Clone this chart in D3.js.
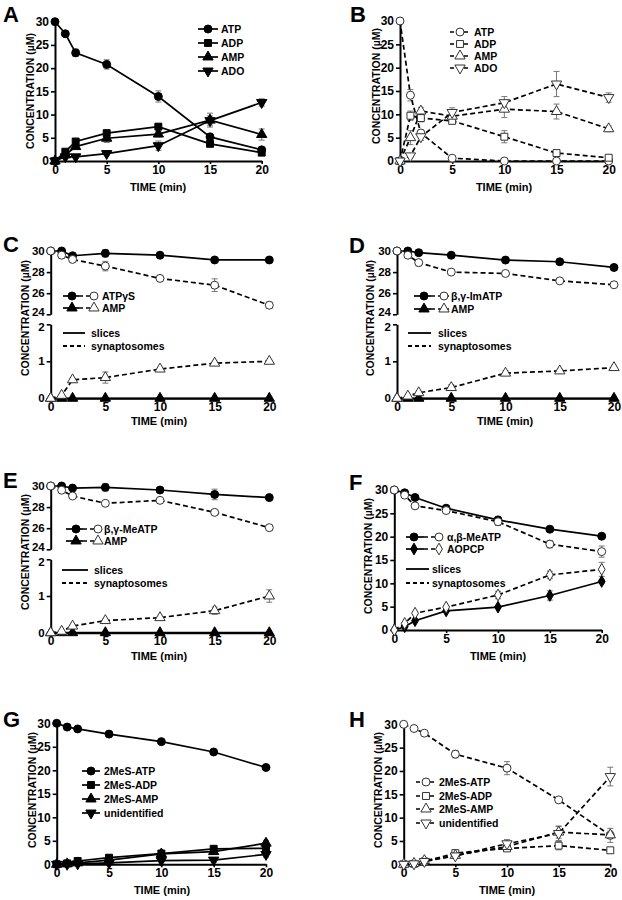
<!DOCTYPE html>
<html><head><meta charset="utf-8">
<script src="https://cdn.jsdelivr.net/npm/d3@7"></script>
<style>
body{margin:0;background:#fff}
text{font-family:"Liberation Sans",Arial,Helvetica,sans-serif;font-weight:bold;fill:#000}
</style>
</head><body>
<svg id="c" width="622" height="900"></svg>
<script>
// ---------- DATA ----------
const times = [0, 1, 2, 5, 10, 15, 20];
const xTicks = [0, 5, 10, 15, 20];
const yTicksFull = [0, 5, 10, 15, 20, 25, 30];
const yTicksUpper = [24, 26, 28, 30];
const yTicksLower = [0, 1, 2];
const lineLabels = ["slices", "synaptosomes"];

// Panel A (slices)
const aLabels = ["ATP", "ADP", "AMP", "ADO"];
const aATP = [30, 27.4, 23.3, 20.8, 13.9, 5.2, 2.4];
const aATPerr = [0, 0.5, 0.8, 1.0, 1.2, 0.5, 0.5];
const aADP = [0, 2.0, 4.2, 6.0, 7.4, 3.7, 1.8];
const aADPerr = [0, 0.3, 0.4, 0.5, 0.5, 0.3, 0.4];
const aAMP = [0, 1.3, 3.1, 4.9, 5.8, 8.8, 5.7];
const aAMPerr = [0, 0.3, 0.5, 0.9, 0.6, 1.5, 1.2];
const aADO = [0, 0.9, 0.9, 1.6, 3.3, 8.7, 12.6];
const aADOerr = [0, 0.2, 0.3, 0.4, 1.0, 1.0, 0.8];

// Panel B (synaptosomes)
const bLabels = ["ATP", "ADP", "AMP", "ADO"];
const bATP = [30, 14.1, 6.0, 0.6, 0, 0, 0];
const bATPerr = [0, 1.2, 0.6, 0.2, 0, 0, 0];
const bADP = [0, 9.7, 9.2, 8.6, 5.2, 1.7, 0.7];
const bADPerr = [0, 1.0, 0.8, 0.6, 1.3, 0.4, 0.3];
const bAMP = [0, 5.0, 10.7, 9.6, 11.1, 10.6, 6.9];
const bAMPerr = [0, 1.5, 0.8, 0.7, 1.8, 1.6, 0.6];
const bADO = [0, 1.1, 5.2, 10.4, 12.5, 16.5, 13.6];
const bADOerr = [0, 0.3, 0.8, 1.0, 1.3, 2.7, 1.0];

// Panel C
const cLabels = ["ATPγS", "AMP"];
const cATPsl = [30, 30, 29.55, 29.78, 29.6, 29.15, 29.15];
const cATPslErr = [0, 0.05, 0.1, 0.35, 0.1, 0.1, 0.1];
const cATPsy = [30, 29.6, 29.2, 28.57, 27.4, 26.76, 24.86];
const cATPsyErr = [0, 0.1, 0.15, 0.45, 0.25, 0.6, 0.3];
const cAMPsl = [0, 0, 0, 0, 0, 0, 0];
const cAMPsy = [0, 0.08, 0.5, 0.56, 0.79, 0.95, 1.0];
const cAMPsyErr = [0, 0.02, 0.04, 0.15, 0.04, 0.05, 0.03];

// Panel D
const dLabels = ["β,γ-ImATP", "AMP"];
const dATPsl = [30, 30, 29.84, 29.6, 29.14, 28.98, 28.44];
const dATPslErr = [0, 0.05, 0.1, 0.1, 0.1, 0.1, 0.1];
const dATPsy = [30, 29.6, 28.9, 28.0, 27.87, 27.17, 26.8];
const dATPsyErr = [0, 0.1, 0.3, 0.1, 0.1, 0.1, 0.1];
const dAMPsl = [0, 0, 0, 0, 0, 0, 0];
const dAMPsy = [0, 0.06, 0.15, 0.29, 0.68, 0.74, 0.83];
const dAMPsyErr = [0, 0.02, 0.04, 0.08, 0.06, 0.05, 0.06];

// Panel E
const eLabels = ["β,γ-MeATP", "AMP"];
const eATPsl = [30, 30, 29.8, 29.87, 29.62, 29.2, 28.9];
const eATPslErr = [0, 0.05, 0.1, 0.35, 0.1, 0.5, 0.1];
const eATPsy = [30, 29.6, 29.05, 28.36, 28.64, 27.5, 26.05];
const eATPsyErr = [0, 0.1, 0.1, 0.1, 0.1, 0.1, 0.1];
const eAMPsl = [0, 0, 0, 0, 0, 0, 0];
const eAMPsy = [0, 0.04, 0.18, 0.33, 0.41, 0.6, 1.0];
const eAMPsyErr = [0, 0.02, 0.03, 0.04, 0.04, 0.1, 0.17];

// Panel F
const fLabels = ["α,β-MeATP", "AOPCP"];
const fMeATPsl = [30, 29.4, 28.4, 26.1, 23.6, 21.6, 20.1];
const fMeATPslErr = [0, 0.3, 0.4, 0.4, 0.6, 0.4, 0.4];
const fMeATPsy = [30, 28.9, 26.6, 25.6, 23.2, 18.4, 16.8];
const fMeATPsyErr = [0, 0.3, 0.4, 0.4, 0.8, 0.8, 1.2];
const fAOPCPsl = [0, 0.7, 2.0, 4.1, 4.9, 7.4, 10.4];
const fAOPCPslErr = [0, 0.2, 0.3, 0.3, 0.3, 1.0, 0.4];
const fAOPCPsy = [0, 1.4, 3.6, 4.9, 7.5, 11.8, 13.0];
const fAOPCPsyErr = [0, 0.2, 0.3, 0.3, 0.8, 0.8, 1.5];

// Panel G (slices)
const gLabels = ["2MeS-ATP", "2MeS-ADP", "2MeS-AMP", "unidentified"];
const gATP = [30, 29.2, 28.8, 27.7, 26.1, 23.9, 20.6];
const gATPerr = [0, 0.2, 0.2, 0.3, 0.3, 0.3, 0.4];
const gADP = [0, 0.2, 0.7, 1.4, 2.3, 3.3, 3.4];
const gADPerr = [0, 0.1, 0.1, 0.3, 0.3, 0.5, 0.6];
const gAMP = [0, 0.1, 0.3, 0.9, 2.2, 2.7, 4.5];
const gAMPerr = [0, 0.1, 0.1, 0.2, 0.3, 0.5, 0.6];
const gUnid = [0, 0, 0.1, 0.3, 0.8, 0.9, 2.1];
const gUnidErr = [0, 0, 0.1, 0.2, 0.5, 0.5, 0.6];

// Panel H (synaptosomes)
const hLabels = ["2MeS-ATP", "2MeS-ADP", "2MeS-AMP", "unidentified"];
const hATP = [30, 29.1, 28.1, 23.6, 20.6, 13.8, 6.2];
const hATPerr = [0, 0.3, 0.3, 0.8, 1.4, 0.5, 1.5];
const hADP = [0, 0.1, 0.6, 2.4, 3.4, 4.0, 3.0];
const hADPerr = [0, 0.1, 0.2, 0.4, 0.6, 0.9, 0.5];
const hAMP = [0, 0.2, 0.8, 1.9, 3.8, 6.9, 6.3];
const hAMPerr = [0, 0.1, 0.2, 0.4, 0.8, 1.3, 0.8];
const hUnid = [0, 0.1, 0.6, 1.8, 4.4, 6.6, 18.8];
const hUnidErr = [0, 0.1, 0.2, 0.4, 0.9, 1.5, 2.0];

// ---------- DRAWING ----------
const svg = d3.select("#c");
const symTypes = {circle: d3.symbolCircle, square: d3.symbolSquare, up: d3.symbolTriangle, down: d3.symbolTriangle, diamond: d3.symbolDiamond};
const symSizes = {circle: 50, square: 48, up: 46, down: 46, diamond: 40};
const TICKFONT = '"Liberation Sans Narrow","Arial Narrow","Liberation Sans",Arial,sans-serif';

function marker(g, type, filled, x, y) {
  g.append("path")
    .attr("d", d3.symbol().type(symTypes[type]).size(symSizes[type])())
    .attr("transform", `translate(${x},${y})` + (type === "down" ? " rotate(180)" : ""))
    .attr("fill", filled ? "#000" : "#fff")
    .attr("stroke", filled ? "#000" : "#333")
    .attr("stroke-width", 1);
}

function styleAxis(ax, fs) {
  ax.select(".domain").attr("stroke", "#000").attr("stroke-width", 2);
  ax.selectAll(".tick line").attr("stroke", "#000").attr("stroke-width", 1.6);
  ax.selectAll(".tick text").attr("font-size", fs || 12).attr("font-family", TICKFONT)
    .attr("font-weight", "bold").attr("fill", "#000");
}

function drawPanel(p) {
  const g = svg.append("g");
  const x = d3.scaleLinear().domain([0, 20]).range([p.x0, p.x1]);
  let yU, yL;
  if (p.broken) {
    yU = d3.scaleLinear().domain([24, 30]).range([p.yu0, p.yu1]);
    yL = d3.scaleLinear().domain([0, 2]).range([p.yl0, p.yl1]);
  } else {
    yU = d3.scaleLinear().domain([0, 30]).range([p.y0, p.y1]);
    yL = yU;
  }
  const yBase = p.broken ? p.yl0 : p.y0;
  // axes
  if (p.broken) {
    const au = g.append("g").attr("transform", `translate(${p.x0},0)`)
      .call(d3.axisLeft(yU).tickValues(yTicksUpper).tickSize(4).tickSizeOuter(0).tickPadding(2).tickFormat(d3.format("d")));
    styleAxis(au, 11.5);
    au.selectAll(".tick text").filter(d => d === 24).attr("dy", "0.1em");
    const al = g.append("g").attr("transform", `translate(${p.x0},0)`)
      .call(d3.axisLeft(yL).tickValues(yTicksLower).tickSize(4).tickSizeOuter(0).tickPadding(2).tickFormat(d3.format("d")));
    styleAxis(al, 11.5);
    al.selectAll(".tick text").filter(d => d === 2).attr("dy", "0.55em");
  } else {
    const ay = g.append("g").attr("transform", `translate(${p.x0},0)`)
      .call(d3.axisLeft(yU).tickValues(yTicksFull).tickSize(4).tickSizeOuter(0).tickPadding(2).tickFormat(d3.format("d")));
    styleAxis(ay);
  }
  const ax = g.append("g").attr("transform", `translate(0,${yBase})`)
    .call(d3.axisBottom(x).tickValues(xTicks).tickSize(3).tickSizeOuter(0).tickPadding(1).tickFormat(d3.format("d")));
  styleAxis(ax);

  // labels
  g.append("text").text(p.id).attr("x", p.lx).attr("y", p.ly).attr("font-size", 22);
  g.append("text").text("CONCENTRATION (µM)").attr("font-size", 10.5).attr("text-anchor", "middle")
    .attr("transform", `translate(${p.cx},${p.cy}) rotate(-90)`).attr("dy", "0.35em");
  g.append("text").text("TIME (min)").attr("font-size", 11).attr("text-anchor", "middle")
    .attr("x", p.tx).attr("y", p.ty);

  // series
  const sc = s => s.lower ? yL : yU;
  const eg = g.append("g"), lg = g.append("g"), mg = g.append("g");
  p.series.forEach(s => {
    const y = sc(s);
    (s.e || []).forEach((e, i) => {
      if (!e) return;
      const cx = x(times[i]);
      const lo = Math.max(s.v[i] - e, y.domain()[0]);
      const y1 = y(s.v[i] + e), y2 = y(lo);
      eg.append("line").attr("x1", cx).attr("x2", cx).attr("y1", y1).attr("y2", y2).attr("stroke", "#777").attr("stroke-width", 1);
      eg.append("line").attr("x1", cx - 3).attr("x2", cx + 3).attr("y1", y1).attr("y2", y1).attr("stroke", "#777").attr("stroke-width", 1);
      eg.append("line").attr("x1", cx - 3).attr("x2", cx + 3).attr("y1", y2).attr("y2", y2).attr("stroke", "#777").attr("stroke-width", 1);
    });
    lg.append("path").datum(s.v)
      .attr("d", d3.line().x((d, i) => x(times[i])).y(d => y(d)))
      .attr("fill", "none").attr("stroke", "#000").attr("stroke-width", 1.7)
      .attr("stroke-dasharray", s.dash ? "5,3" : null);
    s.v.forEach((v, i) => marker(mg, s.sym, s.fill, x(times[i]), y(v)));
  });

  // legends
  const leg = g.append("g");
  if (p.legSingle) {
    const L = p.legSingle;
    p.series.forEach((s, i) => {
      const yy = L.y[i];
      leg.append("line").attr("x1", L.l0).attr("x2", L.l1).attr("y1", yy).attr("y2", yy)
        .attr("stroke", "#000").attr("stroke-width", 1.7).attr("stroke-dasharray", s.dash ? "4,3" : null);
      marker(leg, s.sym, s.fill, L.m, yy);
      leg.append("text").text(p.labels[i]).attr("x", L.t).attr("y", yy).attr("dy", "0.36em").attr("font-size", 10.5);
    });
  }
  if (p.legPair) {
    const L = p.legPair;
    p.labels.forEach((lab, i) => {
      const yy = L.y[i];
      const sl = p.series[i * 2], sy = p.series[i * 2 + 1];
      leg.append("line").attr("x1", L.s0).attr("x2", L.s1).attr("y1", yy).attr("y2", yy).attr("stroke", "#000").attr("stroke-width", 1.7);
      leg.append("line").attr("x1", L.s1).attr("x2", L.d1).attr("y1", yy).attr("y2", yy).attr("stroke", "#000").attr("stroke-width", 1.7).attr("stroke-dasharray", "4,3");
      marker(leg, sl.sym, true, L.mf, yy);
      marker(leg, sy.sym, false, L.mo, yy);
      leg.append("text").text(lab).attr("x", L.t).attr("y", yy).attr("dy", "0.36em").attr("font-size", 10.5);
    });
    const K = p.legLine;
    lineLabels.forEach((lab, i) => {
      const yy = K.y[i];
      leg.append("line").attr("x1", K.l0).attr("x2", K.l1).attr("y1", yy).attr("y2", yy)
        .attr("stroke", "#000").attr("stroke-width", 1.8).attr("stroke-dasharray", i ? "4,3" : null);
      leg.append("text").text(lab).attr("x", K.t).attr("y", yy).attr("dy", "0.36em").attr("font-size", 10.5);
    });
  }
}

const S = (v, e, sym, fill, dash, lower) => ({v, e, sym, fill, dash, lower});

drawPanel({id: "A", lx: 3, ly: 22, x0: 55, x1: 261.7, y0: 161, y1: 21.7, cx: 30, cy: 91, tx: 158, ty: 191,
  labels: aLabels,
  series: [S(aATP, aATPerr, "circle", true, false), S(aADP, aADPerr, "square", true, false),
           S(aAMP, aAMPerr, "up", true, false), S(aADO, aADOerr, "down", true, false)],
  legSingle: {y: [29, 43, 57, 71], l0: 198, l1: 218, m: 208, t: 221}});

drawPanel({id: "B", lx: 350, ly: 22, x0: 400, x1: 608.7, y0: 161, y1: 21, cx: 376, cy: 86, tx: 504, ty: 191,
  labels: bLabels,
  series: [S(bATP, bATPerr, "circle", false, true), S(bADP, bADPerr, "square", false, true),
           S(bAMP, bAMPerr, "up", false, true), S(bADO, bADOerr, "down", false, true)],
  legSingle: {y: [32, 44, 56, 68], l0: 450, l1: 470, m: 460, t: 474}});

drawPanel({id: "C", lx: 3, ly: 252, x0: 50.7, x1: 269.3, broken: true, yu0: 314.3, yu1: 251, yl0: 398.3, yl1: 324.3,
  cx: 25, cy: 318, tx: 159, ty: 425, labels: cLabels,
  series: [S(cATPsl, cATPslErr, "circle", true, false), S(cATPsy, cATPsyErr, "circle", false, true),
           S(cAMPsl, null, "up", true, false, true), S(cAMPsy, cAMPsyErr, "up", false, true, true)],
  legPair: {y: [296, 308], s0: 63, s1: 79, d1: 99, mf: 72, mo: 94, t: 102},
  legLine: {y: [333, 346], l0: 63, l1: 85, t: 91}});

drawPanel({id: "D", lx: 349, ly: 253, x0: 397, x1: 614, broken: true, yu0: 314.3, yu1: 251, yl0: 398.3, yl1: 324.3,
  cx: 370, cy: 318, tx: 505, ty: 425, labels: dLabels,
  series: [S(dATPsl, dATPslErr, "circle", true, false), S(dATPsy, dATPsyErr, "circle", false, true),
           S(dAMPsl, null, "up", true, false, true), S(dAMPsy, dAMPsyErr, "up", false, true, true)],
  legPair: {y: [296, 309], s0: 414, s1: 431, d1: 449, mf: 424, mo: 444, t: 451},
  legLine: {y: [333, 346], l0: 408, l1: 431, t: 438}});

drawPanel({id: "E", lx: 3, ly: 488, x0: 50.7, x1: 269.3, broken: true, yu0: 549.3, yu1: 486, yl0: 632.7, yl1: 559.3,
  cx: 25, cy: 552, tx: 159, ty: 660, labels: eLabels,
  series: [S(eATPsl, eATPslErr, "circle", true, false), S(eATPsy, eATPsyErr, "circle", false, true),
           S(eAMPsl, null, "up", true, false, true), S(eAMPsy, eAMPsyErr, "up", false, true, true)],
  legPair: {y: [529, 541], s0: 66, s1: 83, d1: 102, mf: 76, mo: 98, t: 104},
  legLine: {y: [570, 583], l0: 62, l1: 88, t: 94}});

drawPanel({id: "F", lx: 349, ly: 490, x0: 394.3, x1: 601.7, y0: 630, y1: 490,
  cx: 368, cy: 556, tx: 498, ty: 660, labels: fLabels,
  series: [S(fMeATPsl, fMeATPslErr, "circle", true, false), S(fMeATPsy, fMeATPsyErr, "circle", false, true),
           S(fAOPCPsl, fAOPCPslErr, "diamond", true, false), S(fAOPCPsy, fAOPCPsyErr, "diamond", false, true)],
  legPair: {y: [537, 549], s0: 406, s1: 424, d1: 445, mf: 414, mo: 439, t: 447},
  legLine: {y: [569, 583], l0: 406, l1: 429, t: 432}});

drawPanel({id: "G", lx: 3, ly: 727, x0: 56.7, x1: 266, y0: 864.3, y1: 723.3, cx: 32, cy: 790, tx: 162, ty: 894,
  labels: gLabels,
  series: [S(gATP, gATPerr, "circle", true, false), S(gADP, gADPerr, "square", true, false),
           S(gAMP, gAMPerr, "up", true, false), S(gUnid, gUnidErr, "down", true, false)],
  legSingle: {y: [771, 785, 799, 813], l0: 82, l1: 100, m: 91, t: 104}});

drawPanel({id: "H", lx: 349, ly: 727, x0: 403.7, x1: 610.3, y0: 864.3, y1: 724.3, cx: 378, cy: 790, tx: 507, ty: 894,
  labels: hLabels,
  series: [S(hATP, hATPerr, "circle", false, true), S(hADP, hADPerr, "square", false, true),
           S(hAMP, hAMPerr, "up", false, true), S(hUnid, hUnidErr, "down", false, true)],
  legSingle: {y: [782, 796, 809, 823], l0: 416, l1: 434, m: 426, t: 439}});
</script>
</body></html>
